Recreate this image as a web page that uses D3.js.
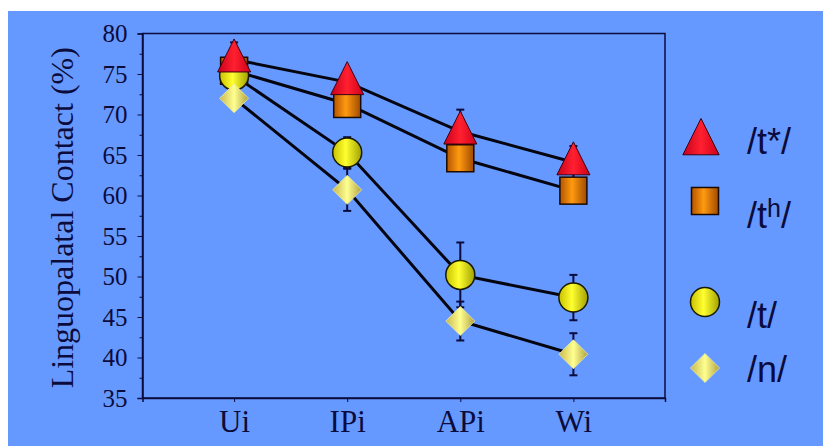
<!DOCTYPE html>
<html><head><meta charset="utf-8">
<script src="https://cdn.jsdelivr.net/npm/d3@7"></script>
<style>body{margin:0;background:#fff;}svg{display:block;}</style>
</head><body>
<svg id="chart" width="823" height="446"></svg>
<script>
const categories = ["Ui", "IPi", "APi", "Wi"];
const yTicks = [35, 40, 45, 50, 55, 60, 65, 70, 75, 80];
const tStar = [76.8, 74.0, 67.9, 64.1];
const tStarErr = [2.1, 1.5, 2.7, 2.0];
const tAsp = [75.4, 71.3, 64.6, 60.6];
const tAspErr = [1.0, 1.2, 1.2, 1.0];
const tPlain = [74.8, 65.3, 50.2, 47.4];
const tPlainErr = [1.2, 1.9, 4.0, 2.8];
const nNasal = [72.0, 60.7, 44.5, 40.4];
const nNasalErr = [1.0, 2.6, 2.4, 2.6];

const svg = d3.select("#chart");
const ink = "#0b0b3c";
const defs = svg.append("defs");
function grad(id, stops) {
  const g = defs.append("linearGradient").attr("id", id).attr("x1", "0").attr("x2", "1").attr("y1", "0").attr("y2", "0");
  stops.forEach(s => g.append("stop").attr("offset", s[0]).attr("stop-color", s[1]));
}
grad("gTri", [[0, "#c8001a"], [0.5, "#ff2030"], [1, "#d00018"]]);
grad("gSq", [[0, "#b35400"], [0.45, "#ff9a10"], [1, "#a04a00"]]);
grad("gCirc", [[0, "#c8c000"], [0.45, "#ffff30"], [1, "#a0a000"]]);
grad("gDia", [[0, "#c8b850"], [0.5, "#ffff90"], [1, "#b0a040"]]);

svg.append("rect").attr("x", 8).attr("y", 11).attr("width", 815).attr("height", 435).attr("fill", "#6699ff");

const m = {l: 142.5, r: 665, t: 33.5, b: 398};
const x = d3.scalePoint().domain(categories).range([m.l, m.r]).padding(0.81);
const y = d3.scaleLinear().domain([35, 80]).range([m.b, m.t]);

// frame
svg.append("rect").attr("x", m.l).attr("y", m.t).attr("width", m.r - m.l).attr("height", m.b - m.t)
  .attr("fill", "none").attr("stroke", ink).attr("stroke-width", 1.5);

// y axis
const yAxis = d3.axisLeft(y).tickValues(yTicks).tickSize(5).tickPadding(10);
const gy = svg.append("g").attr("transform", `translate(${m.l},0)`).call(yAxis);
gy.select(".domain").attr("stroke", ink).attr("stroke-width", 1.5);
gy.selectAll(".tick line").attr("stroke", ink);
gy.selectAll(".tick text").attr("fill", ink).attr("font-family", "Liberation Serif, serif").attr("font-size", 25);
const yMinor = d3.axisLeft(y).tickValues(d3.range(37.5, 80, 5)).tickSize(3).tickFormat("");
const gym = svg.append("g").attr("transform", `translate(${m.l},0)`).call(yMinor);
gym.select(".domain").remove();
gym.selectAll(".tick line").attr("stroke", ink);

// x axis
const xAxis = d3.axisBottom(x).tickSize(4).tickPadding(8);
const gx = svg.append("g").attr("transform", `translate(0,${m.b})`).call(xAxis);
gx.select(".domain").attr("stroke", ink).attr("stroke-width", 1.5);
gx.selectAll(".tick line").attr("stroke", ink);
gx.selectAll(".tick text").attr("fill", ink).attr("font-family", "Liberation Serif, serif").attr("font-size", 31);

// y label
svg.append("text").attr("transform", `translate(73,${(m.t + m.b) / 2 + 2}) rotate(-90)`)
  .attr("text-anchor", "middle").attr("fill", ink)
  .attr("font-family", "Liberation Serif, serif").attr("font-size", 32)
  .text("Linguopalatal Contact (%)");

const series = [
  {vals: tStar, err: tStarErr, shape: "tri"},
  {vals: tAsp, err: tAspErr, shape: "sq"},
  {vals: tPlain, err: tPlainErr, shape: "circ"},
  {vals: nNasal, err: nNasalErr, shape: "dia"}
];

// error bars
series.forEach(s => {
  const g = svg.append("g").attr("stroke", ink).attr("stroke-width", 2);
  categories.forEach((c, i) => {
    const cx = x(c), hi = y(s.vals[i] + s.err[i]), lo = y(s.vals[i] - s.err[i]);
    g.append("line").attr("x1", cx).attr("x2", cx).attr("y1", hi).attr("y2", lo);
    g.append("line").attr("x1", cx - 4).attr("x2", cx + 4).attr("y1", hi).attr("y2", hi);
    g.append("line").attr("x1", cx - 4).attr("x2", cx + 4).attr("y1", lo).attr("y2", lo);
  });
});

// lines
const line = d3.line().x((d, i) => x(categories[i])).y(d => y(d));
series.forEach(s => {
  svg.append("path").attr("d", line(s.vals)).attr("fill", "none").attr("stroke", "#050510").attr("stroke-width", 3);
});

function drawMarker(g, shape, cx, cy, scale) {
  const k = scale || 1;
  if (shape === "tri") {
    const w = 16.5 * k, h = 33 * k;
    g.append("path").attr("d", `M${cx},${cy - h * 0.62}L${cx + w},${cy + h * 0.38}L${cx - w},${cy + h * 0.38}Z`)
      .attr("fill", "url(#gTri)").attr("stroke", "#3a0010").attr("stroke-width", 1);
  } else if (shape === "sq") {
    const s = 13.5 * k;
    g.append("rect").attr("x", cx - s).attr("y", cy - s).attr("width", 2 * s).attr("height", 2 * s)
      .attr("fill", "url(#gSq)").attr("stroke", "#1a0a00").attr("stroke-width", 1.5);
  } else if (shape === "circ") {
    g.append("circle").attr("cx", cx).attr("cy", cy).attr("r", 14.5 * k)
      .attr("fill", "url(#gCirc)").attr("stroke", "#1a1a00").attr("stroke-width", 1.5);
  } else {
    const r = 14.5 * k;
    g.append("path").attr("d", `M${cx},${cy - r}L${cx + r},${cy}L${cx},${cy + r}L${cx - r},${cy}Z`)
      .attr("fill", "url(#gDia)").attr("stroke", "#e8e8a0").attr("stroke-width", 0.8);
  }
}

const order = [1, 2, 3, 0];
order.forEach(si => {
  const s = series[si];
  const g = svg.append("g");
  categories.forEach((c, i) => drawMarker(g, s.shape, x(c), y(s.vals[i])));
});

// legend
const legend = [
  {shape: "tri", label: "/t*/", cy: 141, ty: 154},
  {shape: "sq", label: "/th/", cy: 201, ty: 228},
  {shape: "circ", label: "/t/", cy: 302, ty: 328},
  {shape: "dia", label: "/n/", cy: 368, ty: 382}
];
const lg = svg.append("g");
legend.forEach(d => {
  drawMarker(lg, d.shape, d.shape === "tri" ? 701 : 705, d.cy, d.shape === "tri" ? 1.1 : 1.0);
  const t = lg.append("text").attr("x", 747).attr("y", d.ty).attr("fill", ink)
    .attr("font-family", "Liberation Sans, Arial, sans-serif").attr("font-size", 36);
  if (d.label === "/th/") {
    t.append("tspan").text("/t");
    t.append("tspan").attr("dy", -11).attr("font-size", 25).text("h");
    t.append("tspan").attr("dy", 11).text("/");
  } else {
    t.text(d.label);
  }
});
</script>
</body></html>
